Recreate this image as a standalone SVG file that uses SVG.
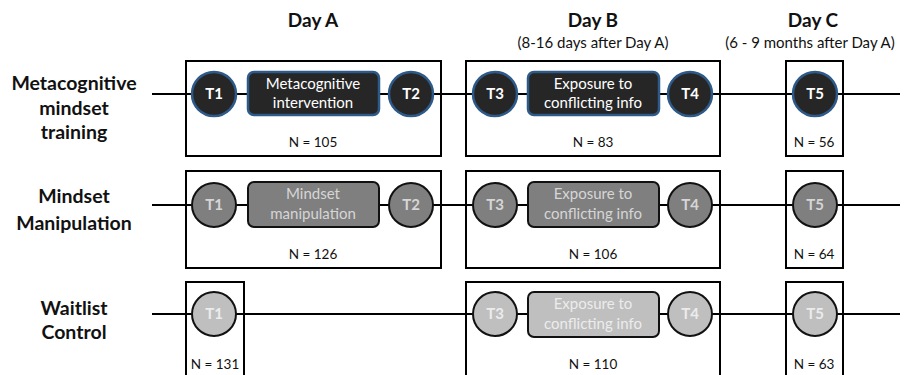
<svg xmlns="http://www.w3.org/2000/svg" width="904" height="375" viewBox="0 0 904 375">
<style>
text{font-family:Lato,"Liberation Sans",sans-serif;text-anchor:middle}
.hdr{font-size:19px;font-weight:bold;fill:#111}
.sub{font-size:15px;fill:#111}
.lab{font-size:19.5px;font-weight:bold;fill:#111}
.n{font-size:13.5px;fill:#111}
.box{fill:none;stroke:#000;stroke-width:2}
.line{stroke:#000;stroke-width:2}
.c1{fill:#262626;stroke:#2e5a8a;stroke-width:2.5}
.c2{fill:#7f7f7f;stroke:#111;stroke-width:2}
.c3{fill:#bfbfbf;stroke:#111;stroke-width:2}
.t1{fill:#fff;font-size:15px}
.t2{fill:#d6d6d6;font-size:15px}
.t3{fill:#ececec;font-size:15px}
.tt{font-size:15px;font-weight:bold}
</style>
<rect width="904" height="375" fill="#fff"/>
<g id="headers">
<text class="hdr" x="313" y="27">Day A</text>
<text class="hdr" x="593" y="27">Day B</text>
<text class="sub" x="593" y="48">(8-16 days after Day A)</text>
<text class="hdr" x="813" y="27">Day C</text>
<text class="sub" x="810" y="48">(6 - 9 months after Day A)</text>
</g>
<g id="row-labels">
<text class="lab" x="74" y="90">Metacognitive</text>
<text class="lab" x="74" y="115">mindset</text>
<text class="lab" x="74" y="139">training</text>
<text class="lab" x="74" y="203">Mindset</text>
<text class="lab" x="74" y="230">Manipulation</text>
<text class="lab" x="74" y="315">Waitlist</text>
<text class="lab" x="74" y="339">Control</text>
</g>
<g id="connectors">
<line class="line" x1="152" y1="94" x2="900" y2="94"/>
<line class="line" x1="152" y1="205" x2="900" y2="205"/>
<line class="line" x1="152" y1="314" x2="900" y2="314"/>
</g>
<g id="boxes">
<rect class="box" x="186" y="61" width="255" height="95"/>
<rect class="box" x="466" y="61" width="254" height="95"/>
<rect class="box" x="786" y="61" width="57" height="95"/>
<rect class="box" x="186" y="171" width="255" height="97"/>
<rect class="box" x="466" y="171" width="254" height="97"/>
<rect class="box" x="786" y="171" width="57" height="97"/>
<rect class="box" x="186" y="282" width="58" height="100"/>
<rect class="box" x="466" y="282" width="254" height="100"/>
<rect class="box" x="786" y="282" width="57" height="100"/>
</g>
<g id="row1">
<g id="r1-t1"><circle class="c1" cx="214" cy="94" r="22"/><text class="t1 tt" x="214" y="99">T1</text></g>
<g id="r1-int"><rect class="c1" x="248" y="72" width="131" height="43" rx="6"/><text class="t1" x="313" y="89">Metacognitive</text><text class="t1" x="313" y="108">intervention</text></g>
<g id="r1-t2"><circle class="c1" cx="411" cy="94" r="22"/><text class="t1 tt" x="411" y="99">T2</text></g>
<g id="r1-t3"><circle class="c1" cx="495" cy="94" r="22"/><text class="t1 tt" x="495" y="99">T3</text></g>
<g id="r1-exp"><rect class="c1" x="528" y="72" width="131" height="43" rx="6"/><text class="t1" x="593" y="89">Exposure to</text><text class="t1" x="593" y="108">conflicting info</text></g>
<g id="r1-t4"><circle class="c1" cx="690" cy="94" r="22"/><text class="t1 tt" x="690" y="99">T4</text></g>
<g id="r1-t5"><circle class="c1" cx="815" cy="94" r="22"/><text class="t1 tt" x="815" y="99">T5</text></g>
<text class="n" x="313" y="147">N = 105</text>
<text class="n" x="593" y="147">N = 83</text>
<text class="n" x="814" y="147">N = 56</text>
</g>
<g id="row2">
<g id="r2-t1"><circle class="c2" cx="214" cy="205" r="22"/><text class="t2 tt" x="214" y="210">T1</text></g>
<g id="r2-man"><rect class="c2" x="248" y="182" width="131" height="45" rx="6"/><text class="t2" x="313" y="199">Mindset</text><text class="t2" x="313" y="219">manipulation</text></g>
<g id="r2-t2"><circle class="c2" cx="411" cy="205" r="22"/><text class="t2 tt" x="411" y="210">T2</text></g>
<g id="r2-t3"><circle class="c2" cx="495" cy="205" r="22"/><text class="t2 tt" x="495" y="210">T3</text></g>
<g id="r2-exp"><rect class="c2" x="528" y="182" width="131" height="45" rx="6"/><text class="t2" x="593" y="199">Exposure to</text><text class="t2" x="593" y="219">conflicting info</text></g>
<g id="r2-t4"><circle class="c2" cx="690" cy="205" r="22"/><text class="t2 tt" x="690" y="210">T4</text></g>
<g id="r2-t5"><circle class="c2" cx="815" cy="205" r="22"/><text class="t2 tt" x="815" y="210">T5</text></g>
<text class="n" x="313" y="259">N = 126</text>
<text class="n" x="593" y="259">N = 106</text>
<text class="n" x="814" y="259">N = 64</text>
</g>
<g id="row3">
<g id="r3-t1"><circle class="c3" cx="214" cy="314" r="22"/><text class="t3 tt" x="214" y="319">T1</text></g>
<g id="r3-t3"><circle class="c3" cx="495" cy="314" r="22"/><text class="t3 tt" x="495" y="319">T3</text></g>
<g id="r3-exp"><rect class="c3" x="528" y="292" width="131" height="45" rx="6"/><text class="t3" x="593" y="309">Exposure to</text><text class="t3" x="593" y="329">conflicting info</text></g>
<g id="r3-t4"><circle class="c3" cx="690" cy="314" r="22"/><text class="t3 tt" x="690" y="319">T4</text></g>
<g id="r3-t5"><circle class="c3" cx="815" cy="314" r="22"/><text class="t3 tt" x="815" y="319">T5</text></g>
<text class="n" x="215" y="369">N = 131</text>
<text class="n" x="593" y="369">N = 110</text>
<text class="n" x="814" y="369">N = 63</text>
</g>
</svg>
